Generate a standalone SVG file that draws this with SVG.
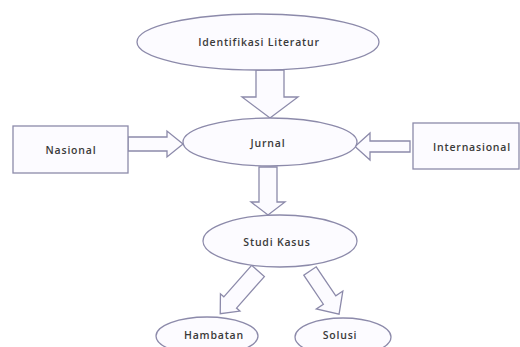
<svg xmlns="http://www.w3.org/2000/svg" width="520" height="347" viewBox="0 0 520 347">
<style>
.shape{fill:#fcfbff;stroke:#8c8aaa;stroke-width:1.3}
.arr{fill:#fcfbff;stroke:#8c8aaa;stroke-width:1.3;stroke-linejoin:miter}
.lbl{font-family:"Open Sans","Liberation Sans",sans-serif;font-size:10.5px;font-weight:600;fill:#3a3a3a;text-anchor:middle;dominant-baseline:central;letter-spacing:0.8px}
</style>
<rect width="520" height="347" fill="#ffffff"/>
<g id="connectors">
<polygon class="arr" points="256,70 284,70 284,97 298,97 270,118 242,97 256,97"/>
<polygon class="arr" points="128,137 167,137 167,131 183,144 167,157 167,151 128,151"/>
<polygon class="arr" points="410,141 370,141 370,133 355,146.5 370,160 370,152 410,152"/>
<polygon class="arr" points="259,167 277,167 277,202 285,202 268,215 251,202 259,202"/>
<polygon class="arr" transform="translate(258,271) rotate(131.5)" points="0,-8.5 42,-8.5 42,-13 57,0 42,13 42,8.5 0,8.5"/>
<polygon class="arr" transform="translate(310,271) rotate(56)" points="0,-7.5 35,-7.5 35,-16 52,0 35,16 35,7.5 0,7.5"/>
</g>
<g id="identifikasi">
<ellipse class="shape" cx="258" cy="42" rx="121" ry="28"/>
<text class="lbl" x="259" y="42">Identifikasi Literatur</text>
</g>
<g id="jurnal">
<ellipse class="shape" cx="270" cy="142" rx="87" ry="24"/>
<text class="lbl" x="268" y="143">Jurnal</text>
</g>
<g id="nasional">
<rect class="shape" x="13" y="126" width="115" height="47"/>
<text class="lbl" x="71" y="150">Nasional</text>
</g>
<g id="internasional">
<rect class="shape" x="413" y="123" width="106" height="46"/>
<text class="lbl" x="472" y="147">Internasional</text>
</g>
<g id="studi">
<ellipse class="shape" cx="280" cy="241" rx="77" ry="26"/>
<text class="lbl" x="277" y="242">Studi Kasus</text>
</g>
<g id="hambatan">
<ellipse class="shape" cx="207" cy="336" rx="51" ry="19"/>
<text class="lbl" x="214" y="335">Hambatan</text>
</g>
<g id="solusi">
<ellipse class="shape" cx="343" cy="337" rx="48" ry="19"/>
<text class="lbl" x="340" y="335">Solusi</text>
</g>
</svg>
